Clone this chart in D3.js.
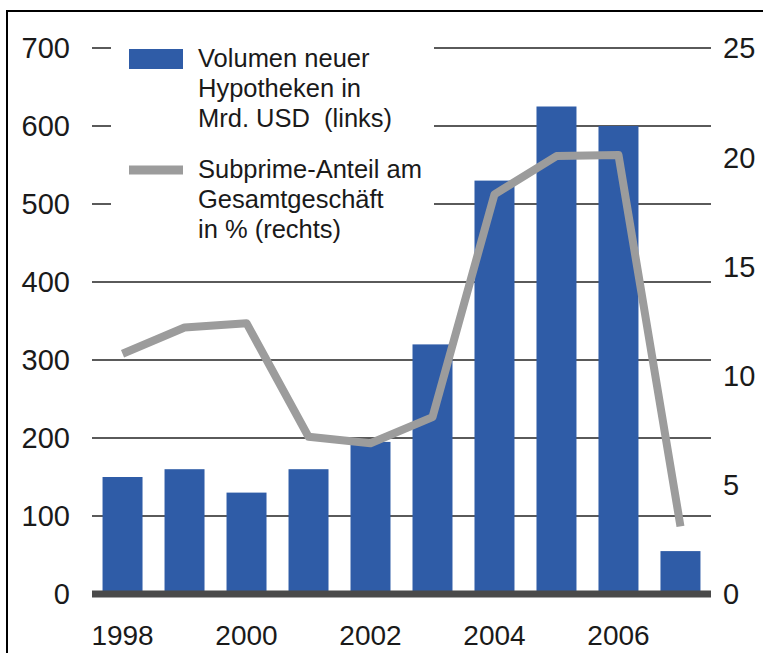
<!DOCTYPE html>
<html>
<head>
<meta charset="utf-8">
<script src="https://cdn.jsdelivr.net/npm/d3@7"></script>
<style>
    html, body { margin: 0; padding: 0; background: #ffffff; }
    svg { display: block; }
</style>
</head>
<body>
<svg id="chart" width="763" height="653"></svg>
<script>
// data
var years = [1998, 1999, 2000, 2001, 2002, 2003, 2004, 2005, 2006, 2007];
var volume = [150, 160, 130, 160, 195, 320, 530, 625, 600, 55];       // Mrd. USD (links)
var subprime = [11.0, 12.2, 12.4, 7.2, 6.9, 8.1, 18.3, 20.05, 20.1, 3.1]; // % (rechts)
var leftTicks = [0, 100, 200, 300, 400, 500, 600, 700];
var rightTicks = [0, 5, 10, 15, 20, 25];
var yearLabels = [1998, 2000, 2002, 2004, 2006];
var legendBars = ["Volumen neuer", "Hypotheken in", "Mrd. USD  (links)"];
var legendLine = ["Subprime-Anteil am", "Gesamtgeschäft", "in % (rechts)"];

var svg = d3.select("#chart");
var x0 = 92, x1 = 711, yTop = 48, yBase = 594;

var x = d3.scaleBand().domain(years).range([x0, x1])
    .paddingInner(0.355).paddingOuter(0.17);
var yL = d3.scaleLinear().domain([0, 700]).range([yBase, yTop]);
var yR = d3.scaleLinear().domain([0, 25]).range([yBase, yTop]);

var font = "'Liberation Sans', Arial, sans-serif";

// frame round the chart
svg.append("path")
    .attr("d", "M7,653 L7,11 L763,11")
    .attr("fill", "none")
    .attr("stroke", "#000")
    .attr("stroke-width", 2);

// gridlines
svg.append("g").selectAll("line")
    .data(leftTicks.slice(1))
    .enter().append("line")
    .attr("x1", x0)
    .attr("x2", x1)
    .attr("y1", function(d) { return yL(d); })
    .attr("y2", function(d) { return yL(d); })
    .style("stroke", "#5a5a5a")
    .style("stroke-width", 1.5)
    .style("shape-rendering", "crispEdges");

// white box behind the legend hides the upper gridlines
svg.append("rect")
    .attr("x", 111)
    .attr("y", 30)
    .attr("width", 323)
    .attr("height", 222)
    .attr("fill", "#fff");

// bars
svg.append("g").selectAll("rect")
    .data(years)
    .enter().append("rect")
    .attr("x", function(d) { return x(d); })
    .attr("width", x.bandwidth())
    .attr("y", function(d, i) { return yL(volume[i]); })
    .attr("height", function(d, i) { return yBase - yL(volume[i]); })
    .attr("fill", "#2f5ca7");

// base line
svg.append("line")
    .attr("x1", x0)
    .attr("x2", x1)
    .attr("y1", yBase)
    .attr("y2", yBase)
    .style("stroke", "#4a4a4a")
    .style("stroke-width", 7);

// subprime line
var line = d3.line()
    .x(function(d, i) { return x(years[i]) + x.bandwidth() / 2; })
    .y(function(d) { return yR(d); });

svg.append("path")
    .datum(subprime)
    .attr("d", line)
    .attr("fill", "none")
    .attr("stroke", "#9c9c9c")
    .attr("stroke-width", 8)
    .attr("stroke-linejoin", "round");

// left axis labels
svg.append("g").selectAll("text")
    .data(leftTicks)
    .enter().append("text")
    .attr("x", 70)
    .attr("y", function(d) { return yL(d); })
    .attr("dy", "0.36em")
    .attr("text-anchor", "end")
    .attr("font-family", font)
    .attr("font-size", 29)
    .attr("fill", "#1a1a1a")
    .text(function(d) { return d; });

// right axis labels
svg.append("g").selectAll("text")
    .data(rightTicks)
    .enter().append("text")
    .attr("x", 723)
    .attr("y", function(d) { return yR(d); })
    .attr("dy", "0.36em")
    .attr("text-anchor", "start")
    .attr("font-family", font)
    .attr("font-size", 29)
    .attr("fill", "#1a1a1a")
    .text(function(d) { return d; });

// year labels
svg.append("g").selectAll("text")
    .data(yearLabels)
    .enter().append("text")
    .attr("x", function(d) { return x(d) + x.bandwidth() / 2; })
    .attr("y", 645)
    .attr("text-anchor", "middle")
    .attr("font-family", font)
    .attr("font-size", 28)
    .attr("fill", "#1a1a1a")
    .text(function(d) { return d; });

// legend
svg.append("rect")
    .attr("x", 129)
    .attr("y", 49)
    .attr("width", 54)
    .attr("height", 20)
    .attr("fill", "#2f5ca7");

svg.append("line")
    .attr("x1", 129)
    .attr("x2", 183)
    .attr("y1", 170)
    .attr("y2", 170)
    .style("stroke", "#9c9c9c")
    .style("stroke-width", 9);

function legendText(lines, yStart) {
    svg.append("g").selectAll("text")
        .data(lines)
        .enter().append("text")
        .attr("x", 198)
        .attr("y", function(d, i) { return yStart + i * 30; })
        .attr("font-family", font)
        .attr("font-size", 25.5)
        .attr("fill", "#1a1a1a")
        .style("white-space", "pre")
        .text(function(d) { return d; });
}
legendText(legendBars, 67);
legendText(legendLine, 178);
</script>
</body>
</html>
